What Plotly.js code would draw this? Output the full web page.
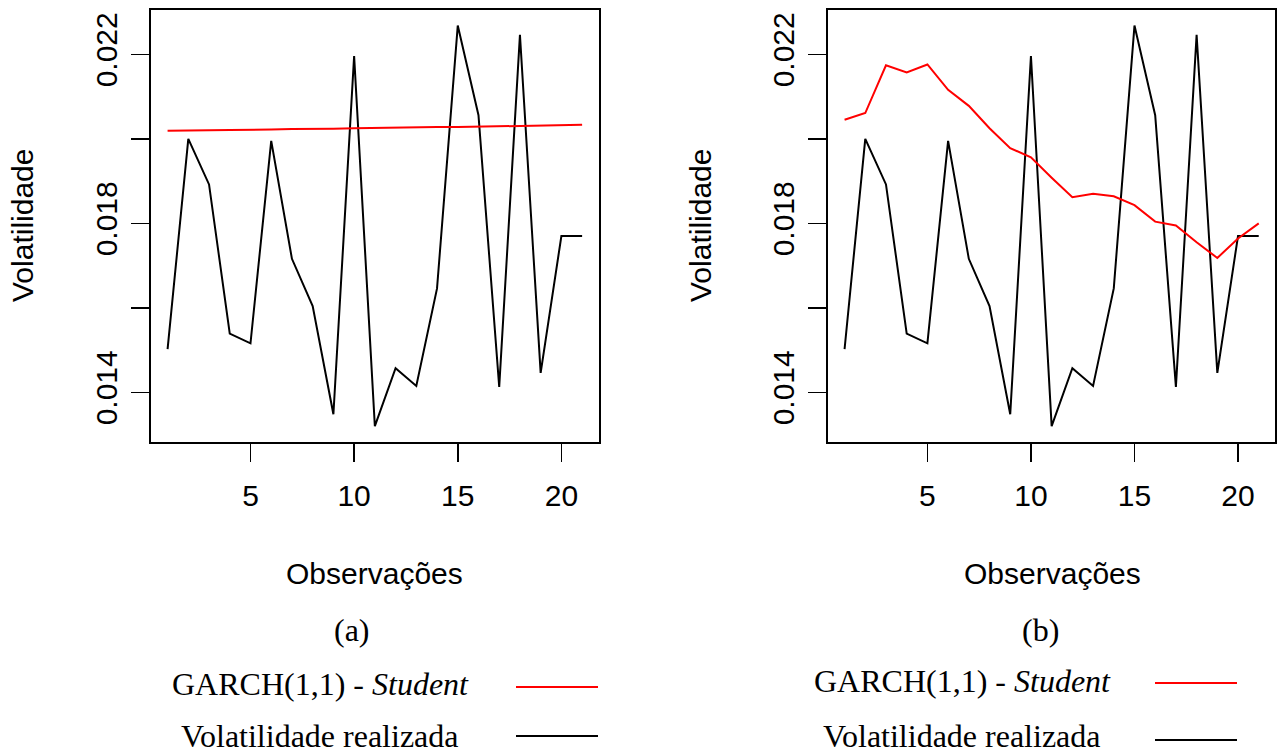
<!DOCTYPE html>
<html>
<head>
<meta charset="utf-8">
<script src="https://cdn.plot.ly/plotly-3.0.1.min.js"></script>
<style>
  html, body { margin: 0; padding: 0; background: #ffffff; }
  #chart { width: 1277px; height: 756px; }
</style>
</head>
<body>
<div id="chart"></div>
<script>
// Observation index (days 1..21)
const observacoes = [1, 2, 3, 4, 5, 6, 7, 8, 9, 10, 11, 12, 13, 14, 15, 16, 17, 18, 19, 20, 21];

// Realized volatility (same in both panels)
const volRealizada = [0.01502, 0.02000, 0.01892, 0.01539, 0.01516, 0.01995, 0.01716, 0.01604,
  0.01348, 0.02196, 0.01320, 0.01457, 0.01415, 0.01646, 0.02268, 0.02056, 0.01413, 0.02246,
  0.01446, 0.01770, 0.01770];

// GARCH(1,1) - Student forecasts, panel (a)
const garchA = [0.02019, 0.02019, 0.02020, 0.02021, 0.02021, 0.02022, 0.02023, 0.02023,
  0.02024, 0.02025, 0.02026, 0.02026, 0.02027, 0.02028, 0.02028, 0.02029, 0.02030, 0.02031,
  0.02031, 0.02032, 0.02033];

// GARCH(1,1) - Student forecasts, panel (b)
const garchB = [0.02045, 0.02061, 0.02174, 0.02157, 0.02176, 0.02116, 0.02078, 0.02025,
  0.01978, 0.01956, 0.01908, 0.01862, 0.01870, 0.01864, 0.01843, 0.01804, 0.01795, 0.01755,
  0.01718, 0.01764, 0.01800];

const xTicks = [5, 10, 15, 20];
const yTicks = [0.014, 0.016, 0.018, 0.020, 0.022];
const yTickText = ["0.014", "", "0.018", "", "0.022"];

const panelLabels = ["(a)", "(b)"];
const legendGarch = "GARCH(1,1) - <i>Student</i>";
const legendReal = "Volatilidade realizada";
const xTitle = "Observações";
const yTitle = "Volatilidade";

// page geometry helpers (pixels -> paper fractions)
const W = 1277, H = 756;
const px = v => v / W;
const py = v => 1 - v / H;

const sans = "'Liberation Sans', Arial, Helvetica, sans-serif";
const serif = "'Liberation Serif', 'Times New Roman', serif";

const traces = [
  { x: observacoes, y: volRealizada, xaxis: 'x', yaxis: 'y', mode: 'lines',
    line: { color: '#000000', width: 2 }, hoverinfo: 'skip' },
  { x: observacoes, y: garchA, xaxis: 'x', yaxis: 'y', mode: 'lines',
    line: { color: '#ff0000', width: 2 }, hoverinfo: 'skip' },
  { x: observacoes, y: volRealizada, xaxis: 'x2', yaxis: 'y2', mode: 'lines',
    line: { color: '#000000', width: 2 }, hoverinfo: 'skip' },
  { x: observacoes, y: garchB, xaxis: 'x2', yaxis: 'y2', mode: 'lines',
    line: { color: '#ff0000', width: 2 }, hoverinfo: 'skip' }
];

function xAxis(domain, anchor) {
  return {
    domain: domain, anchor: anchor, range: [0.2, 21.8],
    tickmode: 'array', tickvals: xTicks, ticktext: xTicks.map(String),
    ticks: 'outside', ticklen: 18, tickwidth: 1.5, tickcolor: '#000',
    showline: true, mirror: true, linecolor: '#000', linewidth: 2,
    showgrid: false, zeroline: false,
    tickfont: { family: sans, size: 30, color: '#000' },
    ticklabelstandoff: 8
  };
}
function yAxis(domain, anchor) {
  return {
    domain: domain, anchor: anchor, range: [0.012831, 0.023049],
    tickmode: 'array', tickvals: yTicks, ticktext: yTickText,
    ticks: 'outside', ticklen: 18, tickwidth: 1.5, tickcolor: '#000',
    tickangle: -90,
    showline: true, mirror: true, linecolor: '#000', linewidth: 2,
    showgrid: false, zeroline: false,
    tickfont: { family: sans, size: 30, color: '#000' },
    ticklabelstandoff: 2
  };
}

const yDom = [py(441.7), py(10)];
const panels = [
  { xd: [px(151), px(598.7)], cx: 375, ytx: 22, lab: 352,
    legText: 320, legLine: [516, 598], legY: [684, 736], lineY: [687, 736] },
  { xd: [px(828), px(1275.3)], cx: 1052, ytx: 700, lab: 1040,
    legText: 962, legLine: [1155, 1237], legY: [681, 736], lineY: [683, 740] }
];

const annotations = [];
const shapes = [];
panels.forEach((p, i) => {
  annotations.push(
    { text: xTitle, xref: 'paper', yref: 'paper', x: px(p.cx), y: py(573),
      xanchor: 'center', yanchor: 'middle', showarrow: false,
      font: { family: sans, size: 30, color: '#000' } },
    { text: yTitle, xref: 'paper', yref: 'paper', x: px(p.ytx), y: py(226),
      xanchor: 'center', yanchor: 'middle', showarrow: false, textangle: -90,
      font: { family: sans, size: 30, color: '#000' } },
    { text: panelLabels[i], xref: 'paper', yref: 'paper', x: px(p.lab), y: py(630),
      xanchor: 'center', yanchor: 'middle', showarrow: false,
      font: { family: serif, size: 32, color: '#000' } },
    { text: legendGarch, xref: 'paper', yref: 'paper', x: px(p.legText), y: py(p.legY[0]),
      xanchor: 'center', yanchor: 'middle', showarrow: false,
      font: { family: serif, size: 32, color: '#000' } },
    { text: legendReal, xref: 'paper', yref: 'paper', x: px(p.legText), y: py(p.legY[1]),
      xanchor: 'center', yanchor: 'middle', showarrow: false,
      font: { family: serif, size: 32, color: '#000' } }
  );
  shapes.push(
    { type: 'line', xref: 'paper', yref: 'paper',
      x0: px(p.legLine[0]), x1: px(p.legLine[1]), y0: py(p.lineY[0]), y1: py(p.lineY[0]),
      line: { color: '#ff0000', width: 2 } },
    { type: 'line', xref: 'paper', yref: 'paper',
      x0: px(p.legLine[0]), x1: px(p.legLine[1]), y0: py(p.lineY[1]), y1: py(p.lineY[1]),
      line: { color: '#000000', width: 2 } }
  );
});

const layout = {
  width: W, height: H,
  margin: { l: 0, r: 0, t: 0, b: 0 },
  paper_bgcolor: '#ffffff', plot_bgcolor: '#ffffff',
  showlegend: false,
  xaxis: xAxis(panels[0].xd, 'y'),
  yaxis: yAxis(yDom, 'x'),
  xaxis2: xAxis(panels[1].xd, 'y2'),
  yaxis2: yAxis(yDom, 'x2'),
  annotations: annotations,
  shapes: shapes
};

Plotly.newPlot('chart', traces, layout, { staticPlot: true, displayModeBar: false });
</script>
</body>
</html>
